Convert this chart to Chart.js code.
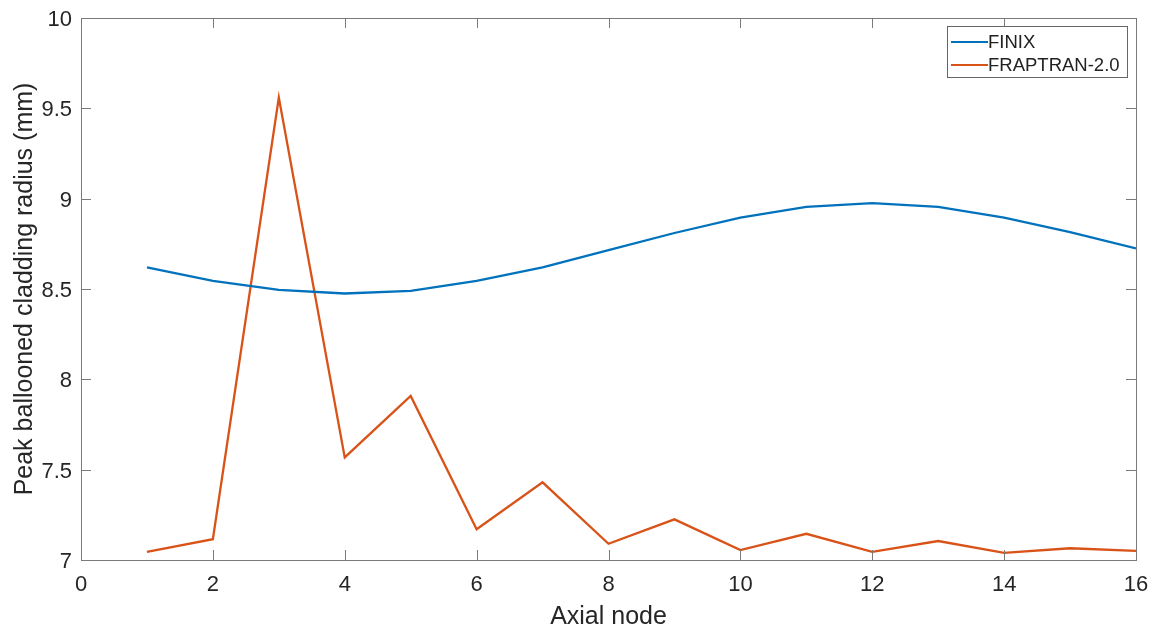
<!DOCTYPE html>
<html>
<head>
<meta charset="utf-8">
<script src="https://cdn.jsdelivr.net/npm/chart.js@4/dist/chart.umd.min.js"></script>
<style>
    html, body { margin: 0; padding: 0; background: #fff; }
    #wrap { width: 1158px; height: 630px; position: relative; }
</style>
</head>
<body>
<div id="wrap"><canvas id="chartBallooning"></canvas></div>
<script>
// AXIAL NODES AND PEAK BALLOONED CLADDING RADIUS (mm)
var axialNodes = [1, 2, 3, 4, 5, 6, 7, 8, 9, 10, 11, 12, 13, 14, 15, 16];
var finixRadius = [8.62, 8.545, 8.495, 8.475, 8.49, 8.545, 8.62, 8.715, 8.81, 8.895, 8.955, 8.975, 8.955, 8.895, 8.815, 8.725];
var fraptranRadius = [7.045, 7.115, 9.56, 7.568, 7.908, 7.17, 7.43, 7.09, 7.225, 7.055, 7.145, 7.045, 7.105, 7.04, 7.065, 7.05];
var seriesLabels = ["FINIX", "FRAPTRAN-2.0"];
var seriesColors = ["#0072BD", "#D95319"];
var xTicks = [0, 2, 4, 6, 8, 10, 12, 14, 16];
var yTicks = [7, 7.5, 8, 8.5, 9, 9.5, 10];

var FONT = "'Liberation Sans', Arial, sans-serif";
var AXIS_COLOR = "#7a7a7a";

function toPoints(values) {
    var pts = [];
    for (var i = 0; i < axialNodes.length; i++) {
        pts.push({ x: axialNodes[i], y: values[i] });
    }
    return pts;
}

// MATLAB STYLE BOX, INNER TICKS AND LEGEND
var matlabBox = {
    id: 'matlabBox',
    afterDraw: function(chart) {
        var ctx = chart.ctx;
        var area = chart.chartArea;
        var xs = chart.scales.x;
        var ys = chart.scales.y;
        var len = 10;

        ctx.save();
        ctx.strokeStyle = AXIS_COLOR;
        ctx.lineWidth = 1;
        ctx.strokeRect(Math.round(area.left) + 0.5, Math.round(area.top) + 0.5,
            Math.round(area.right - area.left), Math.round(area.bottom - area.top));

        ctx.beginPath();
        for (var a = 0; a < xTicks.length; a++) {
            var px = Math.round(xs.getPixelForValue(xTicks[a])) + 0.5;
            ctx.moveTo(px, area.bottom);
            ctx.lineTo(px, area.bottom - len);
            ctx.moveTo(px, area.top);
            ctx.lineTo(px, area.top + len);
        }
        for (var b = 0; b < yTicks.length; b++) {
            var py = Math.round(ys.getPixelForValue(yTicks[b])) + 0.5;
            ctx.moveTo(area.left, py);
            ctx.lineTo(area.left + len, py);
            ctx.moveTo(area.right, py);
            ctx.lineTo(area.right - len, py);
        }
        ctx.stroke();

        // LEGEND
        var boxL = 947, boxT = 26, boxW = 180, boxH = 51;
        ctx.fillStyle = "#fff";
        ctx.fillRect(boxL, boxT, boxW, boxH);
        ctx.strokeStyle = "#666";
        ctx.strokeRect(boxL + 0.5, boxT + 0.5, boxW, boxH);
        ctx.font = "18.5px " + FONT;
        ctx.textBaseline = "middle";
        ctx.textAlign = "left";
        for (var i = 0; i < seriesLabels.length; i++) {
            var ly = boxT + 16 + i * 23;
            ctx.strokeStyle = seriesColors[i];
            ctx.lineWidth = 2;
            ctx.beginPath();
            ctx.moveTo(boxL + 4, ly);
            ctx.lineTo(boxL + 41, ly);
            ctx.stroke();
            ctx.fillStyle = "#222";
            ctx.fillText(seriesLabels[i], boxL + 41, ly + 1);
        }
        ctx.restore();
    }
};

var ctx = document.getElementById("chartBallooning").getContext('2d');
var ballooningChart = new Chart(ctx, {
    type: 'line',
    data: {
        datasets: [{
            label: seriesLabels[0],
            data: toPoints(finixRadius),
            borderColor: seriesColors[0],
            borderWidth: 2.3,
            pointRadius: 0,
            tension: 0,
            fill: false
        }, {
            label: seriesLabels[1],
            data: toPoints(fraptranRadius),
            borderColor: seriesColors[1],
            borderWidth: 2.3,
            pointRadius: 0,
            tension: 0,
            fill: false
        }]
    },
    options: {
        responsive: true,
        maintainAspectRatio: false,
        animation: false,
        layout: {
            padding: { left: 0, right: 22, top: 18, bottom: 0 }
        },
        plugins: {
            legend: { display: false },
            tooltip: { enabled: false }
        },
        scales: {
            x: {
                type: 'linear',
                min: 0,
                max: 16,
                border: { display: false },
                grid: { display: false, drawTicks: false, tickLength: 0 },
                afterBuildTicks: function(scale) {
                    scale.ticks = xTicks.map(function(v) { return { value: v }; });
                },
                afterFit: function(scale) {
                    scale.height = 70;
                    scale.paddingLeft = 0;
                    scale.paddingRight = 0;
                },
                ticks: {
                    color: "#262626",
                    padding: 12,
                    maxRotation: 0,
                    font: { family: FONT, size: 22 },
                    callback: function(v) { return String(v); }
                },
                title: {
                    display: true,
                    text: "Axial node",
                    color: "#262626",
                    padding: { top: 0, bottom: 0 },
                    font: { family: FONT, size: 25, lineHeight: 1 }
                }
            },
            y: {
                min: 7,
                max: 10,
                border: { display: false },
                grid: { display: false, drawTicks: false, tickLength: 0 },
                afterBuildTicks: function(scale) {
                    scale.ticks = yTicks.map(function(v) { return { value: v }; });
                },
                afterFit: function(scale) {
                    scale.width = 81;
                    scale.paddingTop = 0;
                    scale.paddingBottom = 0;
                },
                ticks: {
                    color: "#262626",
                    padding: 9,
                    labelOffset: 2,
                    font: { family: FONT, size: 22 },
                    callback: function(v) { return String(v); }
                },
                title: {
                    display: true,
                    text: "Peak ballooned cladding radius (mm)",
                    color: "#262626",
                    padding: { top: 13, bottom: 0 },
                    font: { family: FONT, size: 25, lineHeight: 1 }
                }
            }
        }
    },
    plugins: [matlabBox]
});
</script>
</body>
</html>
